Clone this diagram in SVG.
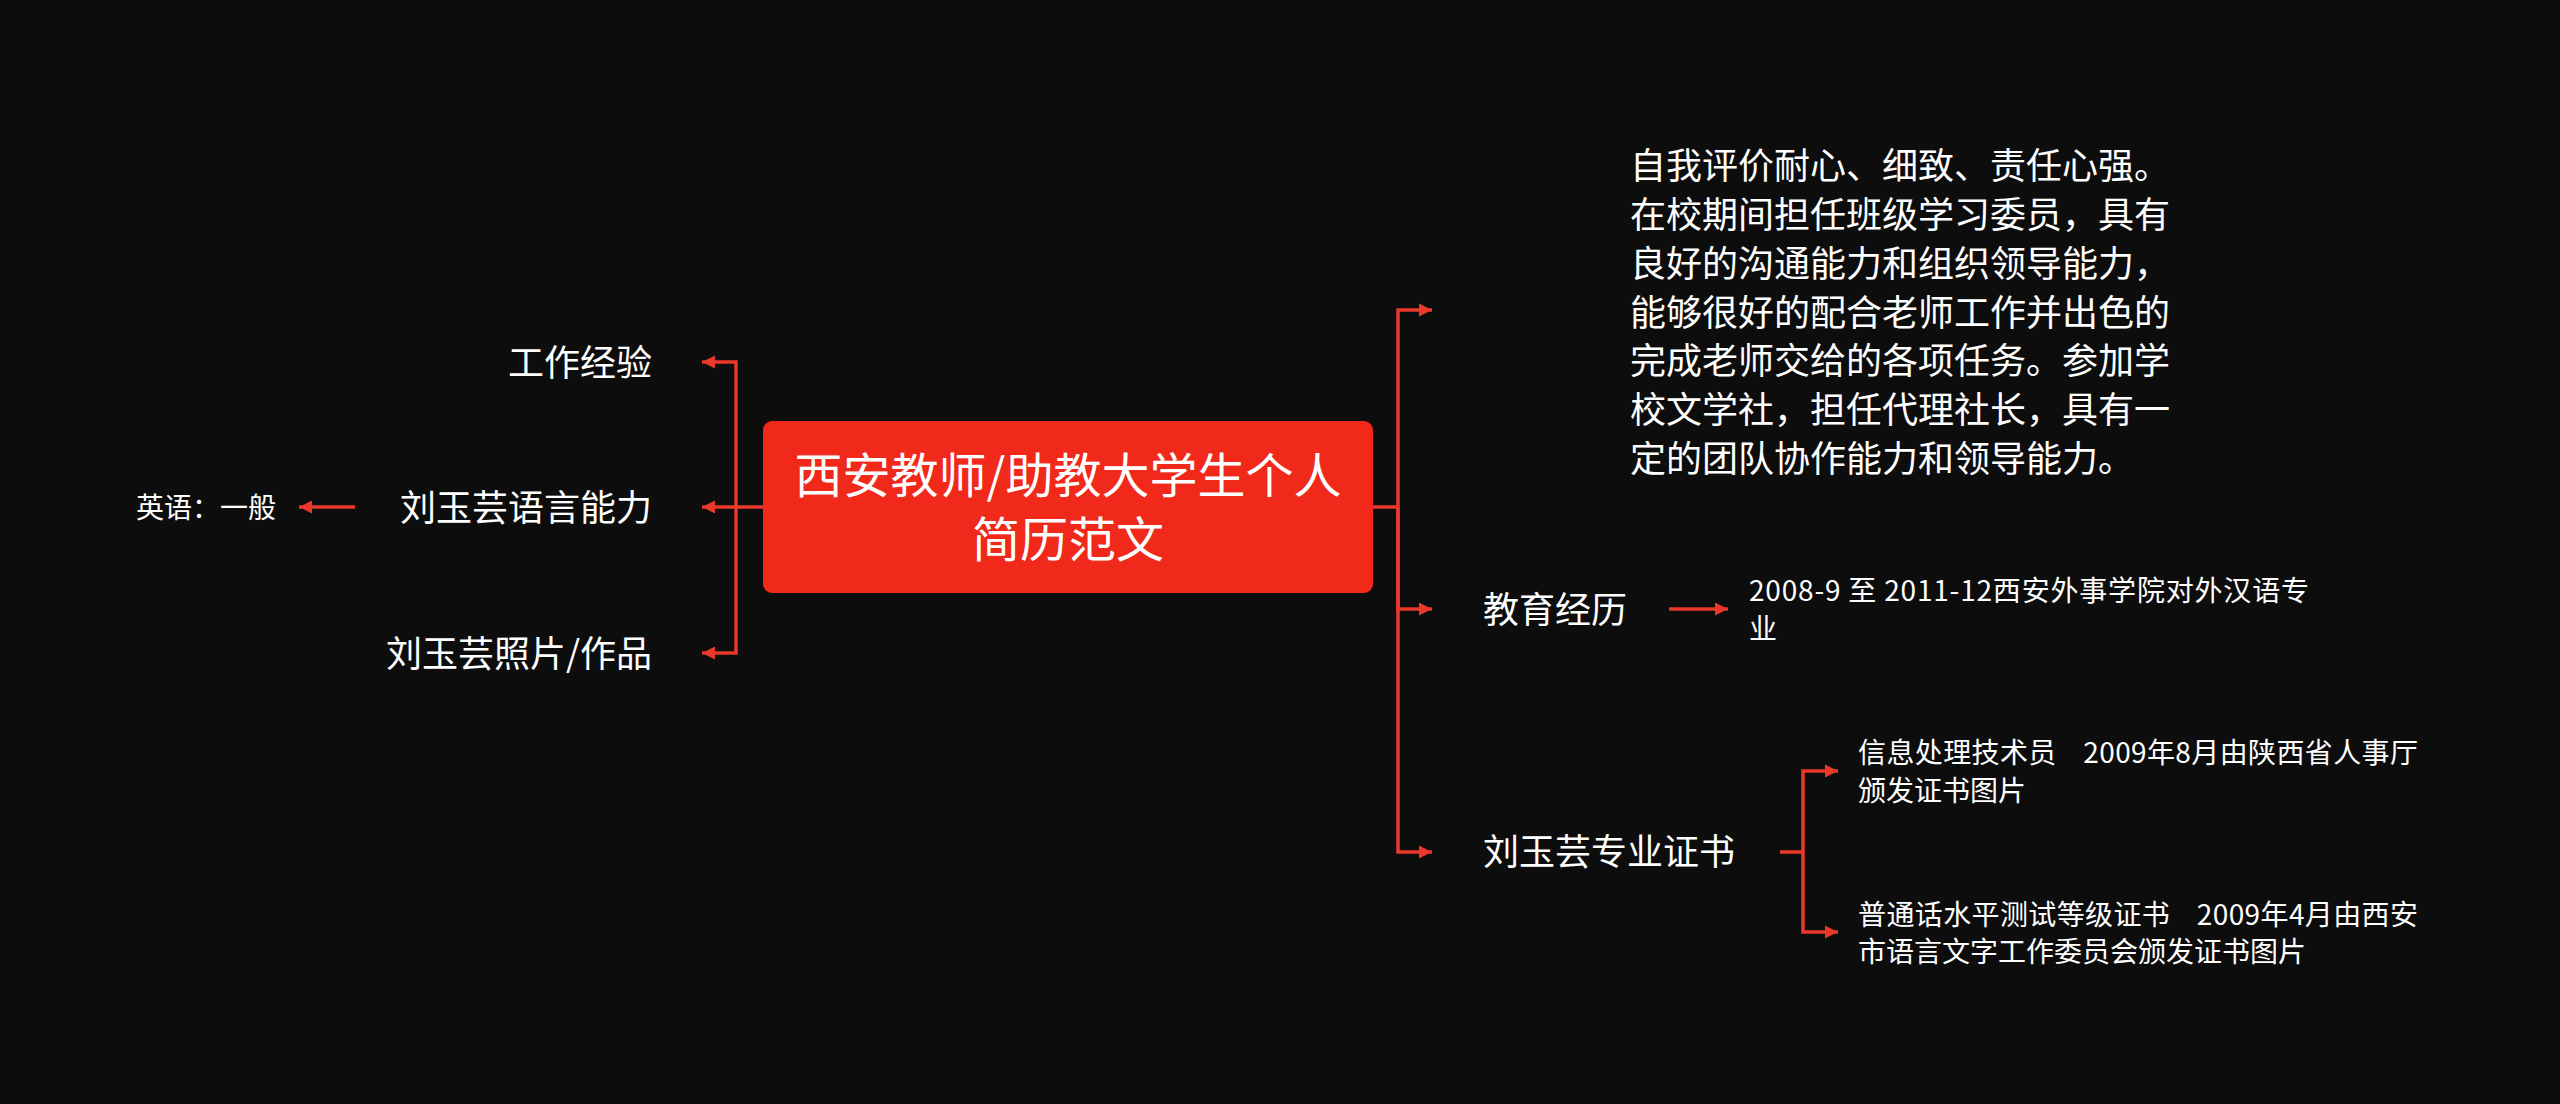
<svg xmlns="http://www.w3.org/2000/svg" width="2560" height="1104" viewBox="0 0 2560 1104">
<defs>
<style>
.t{font-family:"Noto Sans CJK SC","Noto Sans",sans-serif;fill:#ffffff;}
.f48{font-size:48px;}
.f36{font-size:36px;}
.f28{font-size:28px;}
.pre{white-space:pre;}
.ln{fill:none;stroke:#E8392B;stroke-width:3.5;}
</style>
<marker id="ah" markerUnits="userSpaceOnUse" markerWidth="14" markerHeight="14" refX="13" refY="7" orient="auto">
<path d="M0,0.5 L13,7 L0,13.5 z" fill="#E8392B"/>
</marker>
</defs>
<rect x="0" y="0" width="2560" height="1104" fill="#0D0D0D"/>
<g id="connectors">
<path class="ln" d="M763,507 H702" marker-end="url(#ah)"/>
<path class="ln" d="M736,507 V362 H702" marker-end="url(#ah)"/>
<path class="ln" d="M736,507 V653 H702" marker-end="url(#ah)"/>
<path class="ln" d="M355,507 H299" marker-end="url(#ah)"/>
<path class="ln" d="M1372,507 H1398"/>
<path class="ln" d="M1398,507 V310 H1432" marker-end="url(#ah)"/>
<path class="ln" d="M1398,507 V609 H1432" marker-end="url(#ah)"/>
<path class="ln" d="M1398,507 V852 H1432" marker-end="url(#ah)"/>
<path class="ln" d="M1669,609 H1728" marker-end="url(#ah)"/>
<path class="ln" d="M1780,852 H1803"/>
<path class="ln" d="M1803,852 V771 H1838" marker-end="url(#ah)"/>
<path class="ln" d="M1803,852 V932 H1838" marker-end="url(#ah)"/>
</g>
<g id="root">
<rect x="763" y="421" width="610" height="172" rx="9" fill="#F0291A"/>
<text class="t f48" x="1068" y="493" text-anchor="middle">西安教师/助教大学生个人</text>
<text class="t f48" x="1068" y="557" text-anchor="middle">简历范文</text>
</g>
<g id="work">
<text class="t f36" x="652" y="376" text-anchor="end">工作经验</text>
</g>
<g id="language">
<text class="t f36" x="652" y="521" text-anchor="end">刘玉芸语言能力</text>
</g>
<g id="english">
<text class="t f28" x="276" y="518" text-anchor="end">英语：一般</text>
</g>
<g id="photo">
<text class="t f36" x="652" y="667" text-anchor="end">刘玉芸照片/作品</text>
</g>
<g id="self">
<text class="t f36" x="1630" y="179">自我评价耐心、细致、责任心强。</text>
<text class="t f36" x="1630" y="228">在校期间担任班级学习委员，具有</text>
<text class="t f36" x="1630" y="277">良好的沟通能力和组织领导能力，</text>
<text class="t f36" x="1630" y="326">能够很好的配合老师工作并出色的</text>
<text class="t f36" x="1630" y="374">完成老师交给的各项任务。参加学</text>
<text class="t f36" x="1630" y="423">校文学社，担任代理社长，具有一</text>
<text class="t f36" x="1630" y="472">定的团队协作能力和领导能力。</text>
</g>
<g id="education">
<text class="t f36" x="1483" y="623">教育经历</text>
</g>
<g id="edu-detail">
<text class="t f28" x="1749" y="601" textLength="560" lengthAdjust="spacing">2008-9 至 2011-12西安外事学院对外汉语专</text>
<text class="t f28" x="1749" y="639">业</text>
</g>
<g id="cert">
<text class="t f36" x="1483" y="865">刘玉芸专业证书</text>
</g>
<g id="cert1">
<text class="t f28 pre" x="1858" y="763" textLength="560" lengthAdjust="spacing">信息处理技术员    2009年8月由陕西省人事厅</text>
<text class="t f28" x="1858" y="801">颁发证书图片</text>
</g>
<g id="cert2">
<text class="t f28 pre" x="1858" y="925" textLength="560" lengthAdjust="spacing">普通话水平测试等级证书    2009年4月由西安</text>
<text class="t f28" x="1858" y="962">市语言文字工作委员会颁发证书图片</text>
</g>
</svg>
